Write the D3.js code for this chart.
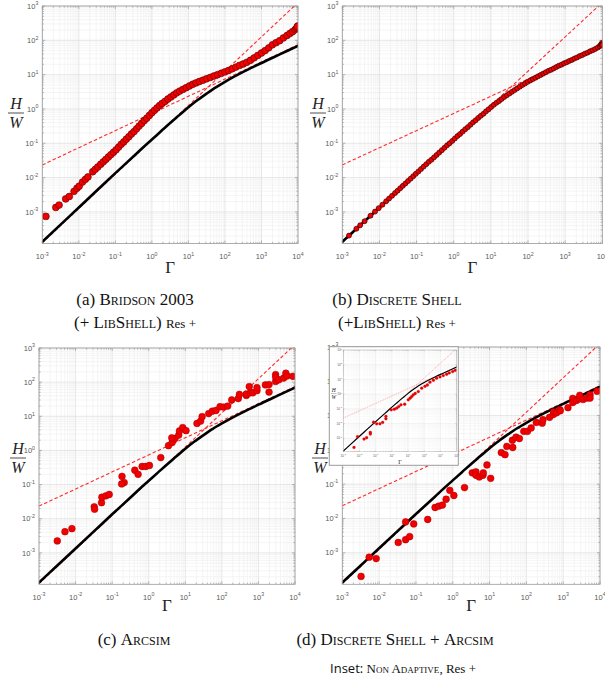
<!DOCTYPE html>
<html><head><meta charset="utf-8">
<script src="https://cdn.jsdelivr.net/npm/d3@7"></script>
<style>body{margin:0;background:#fff}svg{display:block}</style>
</head><body>
<svg id="fig" width="605" height="684"></svg>
<script>
// ---------------- DATA (log10 values) ----------------
const xTickExps = [-3, -2, -1, 0, 1, 2, 3, 4];
const yTickExps = [-3, -2, -1, 0, 1, 2, 3];

// theoretical curve (black)
const curveLogGamma = [-3, -2.5, -2, -1.5, -1, -0.5, -0.25, 0, 0.25, 0.5, 0.75, 1, 1.25, 1.5, 1.75, 2, 2.25, 2.5, 2.75, 3, 3.5, 4];
const curveLogHW    = [-3.87, -3.37, -2.87, -2.37, -1.87, -1.38, -1.13, -0.89, -0.65, -0.41, -0.18, 0.05, 0.26, 0.45, 0.63, 0.79, 0.94, 1.08, 1.21, 1.34, 1.59, 1.84];

// asymptotes (red dashed)
const asymLogGamma = [-3, 4];
const shallowLogHW = [-1.63, 1.87];
const steepLogHW   = [-3.9, 3.1];

// (a) Bridson 2003
const aLogGamma = [-2.90,-2.63,-2.54,-2.36,-2.26,-2.13,-2.05,-1.99,-1.90,-1.82,-1.75,-1.62,-1.55,-1.48,-1.40,-1.33,-1.26,-1.19,-1.12,-1.05,-0.98,-0.91,-0.84,-0.77,-0.70,-0.63,-0.56,-0.49,-0.42,-0.35,-0.28,-0.21,-0.14,-0.07,0.00,0.07,0.14,0.21,0.28,0.36,0.44,0.52,0.60,0.68,0.76,0.85,0.94,1.03,1.12,1.21,1.30,1.40,1.50,1.60,1.70,1.80,1.90,2.00,2.10,2.20,2.30,2.40,2.50,2.60,2.70,2.80,2.90,3.00,3.10,3.20,3.30,3.40,3.50,3.60,3.70,3.78,3.85,3.92,3.96,3.99,4.00,3.98];
const aLogHW    = [-3.13,-2.87,-2.80,-2.62,-2.55,-2.40,-2.31,-2.25,-2.13,-2.05,-1.98,-1.83,-1.76,-1.69,-1.61,-1.54,-1.47,-1.40,-1.33,-1.26,-1.19,-1.11,-1.03,-0.96,-0.88,-0.81,-0.73,-0.66,-0.58,-0.50,-0.42,-0.34,-0.27,-0.19,-0.11,-0.04,0.03,0.10,0.16,0.22,0.29,0.35,0.41,0.47,0.52,0.57,0.62,0.67,0.72,0.76,0.80,0.84,0.88,0.92,0.96,1.00,1.04,1.08,1.12,1.17,1.22,1.27,1.31,1.36,1.42,1.49,1.56,1.63,1.70,1.78,1.87,1.93,1.99,2.07,2.14,2.20,2.25,2.31,2.35,2.38,2.42,2.40];

// (b) Discrete Shell  [log10 Γ, log10 H/W]
const bLogPoints = [[-2.82,-3.69],[-2.62,-3.49],[-2.52,-3.39],[-2.40,-3.27],[-2.24,-3.11],[-2.12,-2.99],[-2.02,-2.89],[-1.92,-2.79],[-1.82,-2.69],[-1.74,-2.61],[-1.66,-2.53],[-1.58,-2.45],[-1.51,-2.38],[-1.44,-2.31],[-1.37,-2.24],[-1.30,-2.17],[-1.23,-2.10],[-1.16,-2.03],[-1.09,-1.96],[-1.02,-1.89],[-0.95,-1.82],[-0.88,-1.75],[-0.81,-1.68],[-0.74,-1.61],[-0.67,-1.54],[-0.60,-1.48],[-0.53,-1.41],[-0.46,-1.34],[-0.39,-1.27],[-0.32,-1.20],[-0.25,-1.13],[-0.18,-1.06],[-0.11,-1.00],[-0.04,-0.93],[0.03,-0.86],[0.10,-0.79],[0.17,-0.73],[0.24,-0.66],[0.31,-0.59],[0.38,-0.53],[0.45,-0.46],[0.52,-0.39],[0.59,-0.33],[0.66,-0.26],[0.73,-0.20],[0.80,-0.14],[0.87,-0.07],[0.94,-0.01],[1.01,0.06],[1.08,0.12],[1.15,0.18],[1.22,0.23],[1.29,0.29],[1.36,0.35],[1.43,0.40],[1.50,0.45],[1.57,0.50],[1.64,0.55],[1.71,0.60],[1.78,0.65],[1.85,0.70],[1.92,0.74],[1.99,0.79],[2.06,0.83],[2.13,0.87],[2.20,0.91],[2.27,0.95],[2.34,0.99],[2.41,1.03],[2.48,1.07],[2.55,1.11],[2.62,1.14],[2.69,1.18],[2.76,1.22],[2.83,1.26],[2.90,1.29],[2.97,1.33],[3.04,1.36],[3.11,1.40],[3.18,1.43],[3.25,1.47],[3.32,1.50],[3.39,1.54],[3.46,1.57],[3.53,1.61],[3.60,1.64],[3.67,1.68],[3.74,1.71],[3.81,1.75],[3.88,1.79],[3.93,1.83],[3.96,1.87],[3.98,1.90],[4.00,1.93],[3.99,1.88],[4.00,1.86]];

// (c) Arcsim
const cLogGamma = [-2.50,-2.29,-2.10,-1.49,-1.48,-1.29,-1.28,-1.17,-1.08,-0.67,-0.73,-0.74,-0.38,-0.29,-0.18,-0.08,0.02,0.33,0.54,0.64,0.72,0.63,0.82,0.84,0.93,1.02,1.32,1.42,1.46,1.64,1.74,1.84,1.95,2.05,2.16,2.27,2.45,2.48,2.67,2.67,2.75,2.78,2.85,2.96,2.96,3.19,3.29,3.29,3.47,3.47,3.47,3.56,3.69,3.75,3.78,3.94];
const cLogHW    = [-2.65,-2.38,-2.29,-1.65,-1.72,-1.53,-1.37,-1.33,-1.29,-0.94,-0.76,-0.98,-0.58,-0.70,-0.47,-0.47,-0.44,-0.21,0.14,0.23,0.35,0.37,0.45,0.57,0.67,0.58,0.79,0.86,0.99,1.08,1.15,1.17,1.28,1.27,1.30,1.48,1.52,1.64,1.61,1.65,1.87,1.69,1.69,1.75,1.84,1.92,1.93,1.71,2.02,2.22,2.15,2.07,2.12,2.26,2.18,2.17];

// (d) Discrete Shell + Arcsim
const dLogGamma = [-2.49,-2.27,-2.08,-1.48,-1.28,-1.28,-1.17,-1.06,-0.68,-0.48,-0.38,-0.28,-0.18,-0.08,0.03,0.32,0.53,0.63,0.63,0.72,0.82,0.83,0.93,1.03,1.32,1.42,1.47,1.62,1.63,1.72,1.81,1.93,2.03,2.13,2.27,2.43,2.45,2.63,2.73,2.74,2.82,2.91,2.92,3.13,3.26,3.26,3.36,3.44,3.45,3.54,3.65,3.73,3.73,3.92];
const dLogHW    = [-3.69,-3.13,-3.17,-2.70,-2.62,-2.10,-2.53,-2.16,-2.03,-1.68,-1.64,-1.61,-1.44,-1.18,-1.33,-1.10,-0.67,-0.64,-0.74,-0.79,-0.74,-0.67,-0.44,-0.83,-0.08,-0.14,0.10,0.28,0.07,0.37,0.33,0.54,0.54,0.64,0.80,0.78,0.88,0.95,1.03,1.11,1.08,1.17,1.14,1.23,1.50,1.38,1.44,1.49,1.59,1.47,1.51,1.61,1.51,1.71];

// (d) inset: Non adaptive
const insetLogGamma = [-2.34,-2.12,-1.72,-1.56,-1.33,-1.33,-1.13,-0.94,-0.74,-0.57,-0.37,-0.37,-0.04,0.15,0.29,0.42,0.56,0.79,1.01,1.12,1.22,1.32,1.44,1.63,1.84,2.04,2.19,2.35,2.56,2.76,2.97,3.17,3.38,3.54,3.75,3.91];
const insetLogHW    = [-3.63,-2.90,-3.06,-2.97,-2.61,-2.72,-1.91,-2.02,-2.02,-1.93,-1.52,-1.68,-1.07,-1.03,-0.96,-0.85,-0.73,-0.69,-0.39,-0.28,-0.17,-0.05,0.04,0.17,0.40,0.53,0.62,0.81,0.94,1.08,1.17,1.26,1.35,1.44,1.53,1.62];

// ---------------- DRAWING ----------------
const svg = d3.select('#fig');
const p10 = v => Math.pow(10, v);
const Y_MIN_EXP = -3.92;
const SANS = "'Liberation Sans', Arial, Helvetica, sans-serif";
const SERIF = "'Liberation Serif', 'DejaVu Serif', serif";
let clipId = 0;

function drawPlot(o) {
  const x = d3.scaleLog().domain([1e-3, 1e4]).range([o.x0, o.x1]);
  const y = d3.scaleLog().domain([p10(Y_MIN_EXP), 1e3]).range([o.y1, o.y0]);
  const g = svg.append('g');
  const s = o.scale || 1;

  if (o.bg) g.append('rect').attr('x', o.x0).attr('y', o.y0).attr('width', o.x1 - o.x0).attr('height', o.y1 - o.y0).attr('fill', '#fff');

  // minor grid
  const minorX = [], minorY = [];
  for (let d = -3; d < 4; d++) for (let k = 2; k <= 9; k++) minorX.push(k * p10(d));
  for (let d = -4; d < 3; d++) for (let k = 2; k <= 9; k++) { const v = k * p10(d); if (v >= p10(Y_MIN_EXP)) minorY.push(v); }
  g.selectAll(null).data(minorX).join('line')
    .attr('x1', d => x(d)).attr('x2', d => x(d)).attr('y1', o.y0).attr('y2', o.y1)
    .attr('stroke', '#efefef').attr('stroke-width', 0.6 * s);
  g.selectAll(null).data(minorY).join('line')
    .attr('y1', d => y(d)).attr('y2', d => y(d)).attr('x1', o.x0).attr('x2', o.x1)
    .attr('stroke', '#efefef').attr('stroke-width', 0.6 * s);
  // major grid
  g.selectAll(null).data(xTickExps.map(p10)).join('line')
    .attr('x1', d => x(d)).attr('x2', d => x(d)).attr('y1', o.y0).attr('y2', o.y1)
    .attr('stroke', '#dcdcdc').attr('stroke-width', 0.7 * s);
  g.selectAll(null).data(yTickExps.map(p10)).join('line')
    .attr('y1', d => y(d)).attr('y2', d => y(d)).attr('x1', o.x0).attr('x2', o.x1)
    .attr('stroke', '#dcdcdc').attr('stroke-width', 0.7 * s);

  // ticks (inward) on all sides
  const tl = 3 * s, tm = 1.6 * s;
  const tk = g.append('g').attr('stroke', '#8a8a8a').attr('stroke-width', 0.6 * s);
  xTickExps.map(p10).forEach(v => {
    tk.append('line').attr('x1', x(v)).attr('x2', x(v)).attr('y1', o.y1).attr('y2', o.y1 - tl);
    tk.append('line').attr('x1', x(v)).attr('x2', x(v)).attr('y1', o.y0).attr('y2', o.y0 + tl);
  });
  minorX.forEach(v => {
    tk.append('line').attr('x1', x(v)).attr('x2', x(v)).attr('y1', o.y1).attr('y2', o.y1 - tm);
    tk.append('line').attr('x1', x(v)).attr('x2', x(v)).attr('y1', o.y0).attr('y2', o.y0 + tm);
  });
  yTickExps.map(p10).forEach(v => {
    tk.append('line').attr('y1', y(v)).attr('y2', y(v)).attr('x1', o.x0).attr('x2', o.x0 + tl);
    tk.append('line').attr('y1', y(v)).attr('y2', y(v)).attr('x1', o.x1).attr('x2', o.x1 - tl);
  });
  minorY.forEach(v => {
    tk.append('line').attr('y1', y(v)).attr('y2', y(v)).attr('x1', o.x0).attr('x2', o.x0 + tm);
    tk.append('line').attr('y1', y(v)).attr('y2', y(v)).attr('x1', o.x1).attr('x2', o.x1 - tm);
  });

  // clip
  const cid = 'clip' + (clipId++);
  svg.append('clipPath').attr('id', cid).append('rect')
    .attr('x', o.x0).attr('y', o.y0).attr('width', o.x1 - o.x0).attr('height', o.y1 - o.y0);
  const pg = g.append('g').attr('clip-path', `url(#${cid})`);

  const line = d3.line().x(d => x(p10(d[0]))).y(d => y(p10(d[1])));
  [shallowLogHW, steepLogHW].forEach(arr => {
    pg.append('path').datum(asymLogGamma.map((v, i) => [v, arr[i]]))
      .attr('d', line).attr('fill', 'none')
      .attr('stroke', o.dashColor || '#ff2a2a').attr('stroke-width', (o.dashW || 1.1))
      .attr('stroke-dasharray', o.dash || '3.5,2.2');
  });
  pg.append('path').datum(curveLogGamma.map((v, i) => [v, curveLogHW[i]]))
    .attr('d', line.curve(d3.curveMonotoneX)).attr('fill', 'none')
    .attr('stroke', '#000').attr('stroke-width', o.lineW || 2.6).attr('stroke-linecap', 'round');

  pg.selectAll(null).data(o.pts).join('circle')
    .attr('cx', d => x(p10(d[0]))).attr('cy', d => y(p10(d[1])))
    .attr('r', o.r).attr('fill', '#f20000')
    .attr('stroke', o.edge || '#7a0000').attr('stroke-width', o.edgeW || 0.6);

  // box
  g.append('rect').attr('x', o.x0).attr('y', o.y0).attr('width', o.x1 - o.x0).attr('height', o.y1 - o.y0)
    .attr('fill', 'none').attr('stroke', '#9a9a9a').attr('stroke-width', 0.8 * s);

  // tick labels
  const fs = o.tickFs || 7.5, sfs = fs * 0.7;
  xTickExps.forEach(e => {
    const t = g.append('text').attr('x', x(p10(e))).attr('y', o.y1 + (o.xLabDy || 15.5))
      .attr('text-anchor', 'middle').attr('font-family', SANS).attr('font-size', fs).attr('fill', '#5a5a5a');
    t.append('tspan').text('10');
    t.append('tspan').attr('dy', -fs * 0.45).attr('font-size', sfs).text(e);
  });
  yTickExps.forEach(e => {
    const t = g.append('text').attr('x', o.x0 - (o.yLabDx || 4)).attr('y', y(p10(e)) + fs * 0.35)
      .attr('text-anchor', 'end').attr('font-family', SANS).attr('font-size', fs).attr('fill', '#5a5a5a');
    t.append('tspan').text('10');
    t.append('tspan').attr('dy', -fs * 0.45).attr('font-size', sfs).text(e);
  });

  // axis labels
  const lfs = o.labFs || 16;
  g.append('text').attr('x', (o.x0 + o.x1) / 2).attr('y', o.gy)
    .attr('text-anchor', 'middle').attr('font-family', SERIF).attr('font-size', lfs * 1.06).attr('fill', '#222').text('Γ');
  const fx = o.fx, fy = o.fy;
  g.append('text').attr('x', fx).attr('y', fy - lfs * 0.22).attr('text-anchor', 'middle')
    .attr('font-family', SERIF).attr('font-style', 'italic').attr('font-size', lfs).attr('fill', '#222').text('H');
  g.append('line').attr('x1', fx - lfs * 0.5).attr('x2', fx + lfs * 0.5).attr('y1', fy).attr('y2', fy)
    .attr('stroke', '#222').attr('stroke-width', lfs * 0.05);
  g.append('text').attr('x', fx).attr('y', fy + lfs * 0.91).attr('text-anchor', 'middle')
    .attr('font-family', SERIF).attr('font-style', 'italic').attr('font-size', lfs).attr('fill', '#222').text('W');
  return g;
}

const zip = (a, b) => a.map((v, i) => [v, b[i]]);
drawPlot({x0: 42.3, x1: 298, y0: 6, y1: 243.5, pts: zip(aLogGamma, aLogHW), r: 3.4, edge: '#5a0000', gy: 273, fx: 16, fy: 113});
drawPlot({x0: 342.3, x1: 602.3, y0: 6, y1: 243.5, pts: bLogPoints, r: 2.5, edge: '#3a0000', edgeW: 0.7, gy: 273, fx: 318, fy: 113});
drawPlot({x0: 39, x1: 295, y0: 348, y1: 584.3, pts: zip(cLogGamma, cLogHW), r: 3.4, edge: '#a00000', edgeW: 0.5, gy: 611, fx: 18, fy: 458});
drawPlot({x0: 342.3, x1: 600, y0: 347, y1: 584.3, pts: zip(dLogGamma, dLogHW), r: 3.4, edge: '#a00000', edgeW: 0.5, gy: 611, fx: 320, fy: 458});

// inset box
svg.append('rect').attr('x', 329.3).attr('y', 346.7).attr('width', 129).attr('height', 118.6)
  .attr('fill', '#fff').attr('stroke', '#9a9a9a').attr('stroke-width', 1);
drawPlot({x0: 343.3, x1: 456.7, y0: 350, y1: 451.7, pts: zip(insetLogGamma, insetLogHW), r: 1.4, edge: '#c00000', edgeW: 0.3,
  scale: 0.45, lineW: 1.2, dash: '1,1', dashW: 0.7, dashColor: '#ff8080', tickFs: 3.2, xLabDy: 5, yLabDx: 1.2,
  labFs: 5.5, gy: 463.5, fx: 333.8, fy: 393.5, bg: true});

// ---------------- CAPTIONS ----------------
function caption(xc, yb, parts) {
  const t = svg.append('text').attr('x', xc).attr('y', yb).attr('text-anchor', 'middle')
    .attr('font-family', SERIF).attr('fill', '#111');
  parts.forEach(p => {
    const ts = t.append('tspan').attr('font-size', p.fs || 17).text(p.t);
    if (p.sc) ts.attr('font-variant', 'small-caps');
    if (p.ff) ts.attr('font-family', p.ff);
  });
}
caption(135, 305, [{t: '(a) '}, {t: 'Bridson 2003', sc: true}]);
caption(135, 328, [{t: '(+ '}, {t: 'LibShell', sc: true}, {t: ') '}, {t: 'Res +', fs: 13}]);
caption(397, 305, [{t: '(b) '}, {t: 'Discrete Shell', sc: true}]);
caption(397, 328, [{t: '(+'}, {t: 'LibShell', sc: true}, {t: ') '}, {t: 'Res +', fs: 13}]);
caption(134, 645, [{t: '(c) '}, {t: 'Arcsim', sc: true}]);
caption(395, 645, [{t: '(d) '}, {t: 'Discrete Shell', sc: true}, {t: ' + '}, {t: 'Arcsim', sc: true}]);
caption(403, 673, [{t: 'Inset: ', fs: 13, ff: "'Open Sans', 'Liberation Sans', sans-serif"}, {t: 'Non Adaptive', sc: true, fs: 13}, {t: ', Res +', fs: 13}]);
</script>
</body></html>
